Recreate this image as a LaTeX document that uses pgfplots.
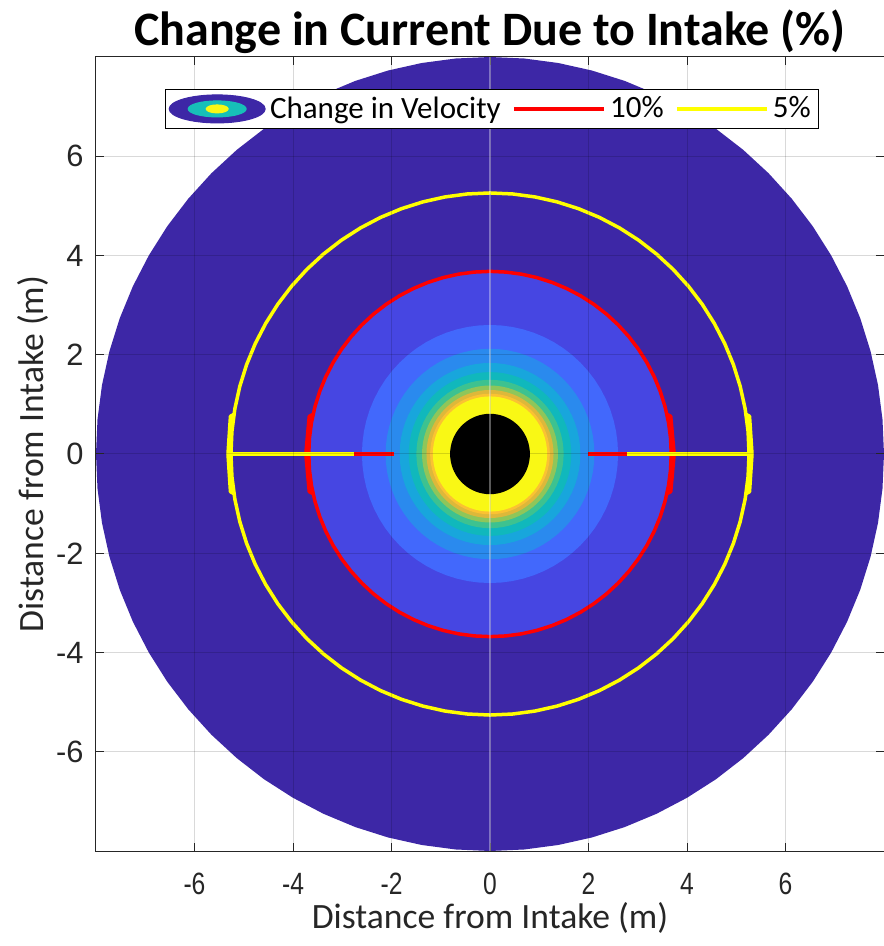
\documentclass[border=0pt]{standalone}
\usepackage{fontspec}
\setmainfont{Carlito}
\newfontfamily\tickfont{Liberation Sans}
\usepackage{graphicx}
\usepackage{pgfplots}
\usepackage{pgfplotstable}
\pgfplotsset{compat=1.18}

\definecolor{axcol}{HTML}{262626}
\definecolor{c0}{HTML}{3D27A6}
\definecolor{c1}{HTML}{4646E2}
\definecolor{c2}{HTML}{4268FC}
\definecolor{c3}{HTML}{2A8AEE}
\definecolor{c4}{HTML}{18A6DC}
\definecolor{c5}{HTML}{10B8BC}
\definecolor{c6}{HTML}{3DC290}
\definecolor{c7}{HTML}{8EC65A}
\definecolor{c8}{HTML}{DDB83A}
\definecolor{c9}{HTML}{FBC232}
\definecolor{c10}{HTML}{F9F815}
\definecolor{cred}{HTML}{FF0000}
\definecolor{cyel}{HTML}{FFFF00}
\definecolor{legteal}{HTML}{17C0B8}

% unit circle, 5 degree steps
\pgfplotstableread{
x y
1.0000 0.0000
0.9962 0.0872
0.9848 0.1736
0.9659 0.2588
0.9397 0.3420
0.9063 0.4226
0.8660 0.5000
0.8192 0.5736
0.7660 0.6428
0.7071 0.7071
0.6428 0.7660
0.5736 0.8192
0.5000 0.8660
0.4226 0.9063
0.3420 0.9397
0.2588 0.9659
0.1736 0.9848
0.0872 0.9962
0.0000 1.0000
-0.0872 0.9962
-0.1736 0.9848
-0.2588 0.9659
-0.3420 0.9397
-0.4226 0.9063
-0.5000 0.8660
-0.5736 0.8192
-0.6428 0.7660
-0.7071 0.7071
-0.7660 0.6428
-0.8192 0.5736
-0.8660 0.5000
-0.9063 0.4226
-0.9397 0.3420
-0.9659 0.2588
-0.9848 0.1736
-0.9962 0.0872
-1.0000 0.0000
-0.9962 -0.0872
-0.9848 -0.1736
-0.9659 -0.2588
-0.9397 -0.3420
-0.9063 -0.4226
-0.8660 -0.5000
-0.8192 -0.5736
-0.7660 -0.6428
-0.7071 -0.7071
-0.6428 -0.7660
-0.5736 -0.8192
-0.5000 -0.8660
-0.4226 -0.9063
-0.3420 -0.9397
-0.2588 -0.9659
-0.1736 -0.9848
-0.0872 -0.9962
0.0000 -1.0000
0.0872 -0.9962
0.1736 -0.9848
0.2588 -0.9659
0.3420 -0.9397
0.4226 -0.9063
0.5000 -0.8660
0.5736 -0.8192
0.6428 -0.7660
0.7071 -0.7071
0.7660 -0.6428
0.8192 -0.5736
0.8660 -0.5000
0.9063 -0.4226
0.9397 -0.3420
0.9659 -0.2588
0.9848 -0.1736
0.9962 -0.0872
1.0000 0.0000
}\unitcircle

\newcommand\xtl[1]{\scalebox{0.8}[1]{#1}}
\newcommand\ring[2]{\addplot[fill=#2, draw=none, forget plot] table[x expr=#1*\thisrow{x}, y expr=#1*\thisrow{y}] {\unitcircle};}

\begin{document}
\begin{tikzpicture}
\begin{axis}[
  name=ax,
  scale only axis,
  width=394pt, height=397pt,
  xmin=-8, xmax=8, ymin=-8, ymax=8,
  axis on top,
  axis line style={axcol, line width=0.5pt},
  xtick={-6,-4,-2,0,2,4,6},
  ytick={-6,-4,-2,0,2,4,6},
  xticklabels={\xtl{-6},\xtl{-4},\xtl{-2},\xtl{0},\xtl{2},\xtl{4},\xtl{6}},
  yticklabels={-6,-4,-2,0,2,4,6},
  tick label style={font=\tickfont\fontsize{15.4}{18}\selectfont, text=axcol},
  xticklabel style={anchor=north, inner sep=0pt, yshift=-11pt},
  yticklabel style={anchor=east, inner sep=0pt, xshift=-6pt},
  tick align=inside,
  major tick length=4pt,
  tick style={axcol, line width=0.5pt},
  grid=major,
  grid style={black, opacity=0.15, line width=0.5pt},
  extra x ticks={0},
  extra x tick labels={},
  extra x tick style={grid style={white, opacity=0.35, line width=1pt}, major tick length=0pt},
  title={Change in Current Due to Intake (\%)},
  title style={font=\bfseries\fontsize{24}{28}\selectfont, at={(axis description cs:0.5,0.9988)}, anchor=base, yshift=0pt},
  xlabel={Distance from Intake (m)},
  ylabel={Distance from Intake (m)},
  xlabel style={font=\fontsize{17.8}{20}\selectfont, text=axcol, at={(axis description cs:0.5,-0.098)}, anchor=base},
  ylabel style={font=\fontsize{17.8}{20}\selectfont, text=axcol, at={(axis description cs:-0.066,0.5)}, anchor=base},
  legend columns=3,
  legend cell align=left,
  legend style={at={(axis description cs:0.5025,0.96)}, anchor=north, draw=black, line width=0.5pt, fill=white,
    font=\fontsize{15.5}{18}\selectfont, inner sep=1.5pt,
    nodes={inner sep=2.2pt},
    /tikz/every even column/.append style={column sep=3.5pt}},
]
% filled contour regions (change in velocity, %)
\ring{8.000}{c0}
\ring{3.670}{c1}
\ring{2.600}{c2}
\ring{2.120}{c3}
\ring{1.835}{c4}
\ring{1.650}{c5}
\ring{1.495}{c6}
\ring{1.380}{c7}
\ring{1.290}{c8}
\ring{1.215}{c9}
\ring{1.160}{c10}
\ring{0.810}{black}
% 10% contour
\addplot[cred, line width=1.75pt, line join=round, forget plot] table[x expr=3.68*\thisrow{x}, y expr=3.68*\thisrow{y}] {\unitcircle};
\addplot[cred, line width=1.75pt, line join=round, forget plot] coordinates {(-3.59,0.80) (-3.67,0.76) (-3.74,0) (-3.67,-0.76) (-3.59,-0.80)};
\addplot[cred, line width=1.75pt, line join=round, forget plot] coordinates {(3.59,0.80) (3.67,0.76) (3.74,0) (3.67,-0.76) (3.59,-0.80)};
\addplot[cred, line width=1.75pt, forget plot] coordinates {(-2.76,0) (-1.95,0)};
\addplot[cred, line width=1.75pt, forget plot] coordinates {(1.99,0) (2.79,0)};
% 5% contour
\addplot[cyel, line width=1.75pt, line join=round, forget plot] table[x expr=5.26*\thisrow{x}, y expr=5.26*\thisrow{y}] {\unitcircle};
\addplot[cyel, line width=1.75pt, line join=round, forget plot] coordinates {(-5.20,0.80) (-5.27,0.76) (-5.32,0) (-5.27,-0.76) (-5.20,-0.80)};
\addplot[cyel, line width=1.75pt, line join=round, forget plot] coordinates {(5.20,0.80) (5.27,0.76) (5.32,0) (5.27,-0.76) (5.20,-0.80)};
\addplot[cyel, line width=1.75pt, forget plot] coordinates {(-5.30,0) (-2.76,0)};
\addplot[cyel, line width=1.75pt, forget plot] coordinates {(2.79,0) (5.30,0)};
% legend
\addlegendimage{legend image code/.code={
  \fill[c0] (24pt,0pt) ellipse [x radius=24pt, y radius=7pt];
  \fill[legteal] (24pt,0pt) ellipse [x radius=14.5pt, y radius=4pt];
  \fill[c10] (24pt,0pt) ellipse [x radius=5.5pt, y radius=2pt];}}
\addlegendentry{Change in Velocity}
\addlegendimage{legend image code/.code={\draw[cred, line width=1.75pt] (0pt,0pt) -- (45pt,0pt);}}
\addlegendentry{10\%}
\addlegendimage{legend image code/.code={\draw[cyel, line width=1.75pt] (0pt,0pt) -- (45pt,0pt);}}
\addlegendentry{5\%}
\end{axis}
\pgfresetboundingbox
\path[use as bounding box] ([xshift=-48pt, yshift=-47.5pt]ax.south west) rectangle ([yshift=28.5pt]ax.north east);
\end{tikzpicture}
\end{document}
